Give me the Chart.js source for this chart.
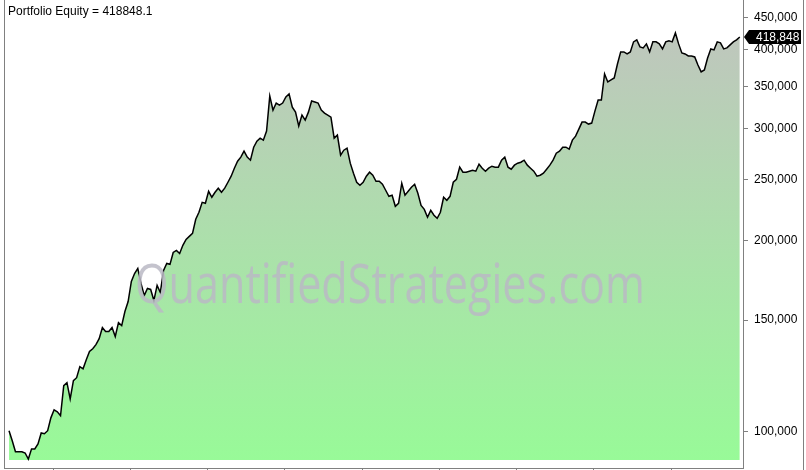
<!DOCTYPE html>
<html>
<head>
<meta charset="utf-8">
<script src="https://cdn.jsdelivr.net/npm/chart.js@4.4.1/dist/chart.umd.min.js"></script>
<style>
  html, body { margin: 0; padding: 0; background: #fff; }
  #wrap { width: 806px; height: 470px; }
</style>
</head>
<body>
<div id="wrap"><canvas id="equity" width="806" height="470"></canvas></div>
<script>
// equity, one value per half month
const startYear = 2014.43;
const stepsPerYear = 24;
const equity = [
  100400, 96800, 93000, 93000, 93000, 92600, 90600, 94000, 94000, 95700,
  99600, 99300, 100400, 105200, 108300, 107500, 106000, 118200, 119500, 112700,
  120400, 121700, 126700, 125700, 129900, 133800, 135200, 137200, 140200, 146000,
  143900, 143900, 146000, 141300, 148600, 147000, 154700, 160400, 172600, 177600,
  180900, 171300, 164000, 168200, 167600, 161000, 170100, 165800, 179600, 184200,
  183600, 191700, 193100, 191000, 196700, 201000, 203200, 205400, 216200, 221800,
  229900, 229100, 239300, 234200, 238500, 242000, 238500, 242000, 247300, 252800,
  260200, 266900, 270900, 276800, 270900, 267900, 280800, 287100, 290200, 288100,
  297700, 338100, 321300, 329600, 327200, 329600, 336900, 340600, 324800, 318900,
  303200, 315500, 309800, 318900, 332000, 330800, 329600, 321300, 317800, 315500,
  313200, 290200, 293400, 272800, 277800, 279800, 265000, 255500, 247300, 244600,
  247300, 252800, 256500, 253700, 248200, 248200, 245500, 240200, 235000, 235900,
  226600, 229100, 246400, 235900, 239300, 242800, 245500, 237600, 227400, 224100,
  217800, 223300, 219400, 217000, 221800, 234200, 231600, 235000, 247300, 250000,
  261200, 256500, 256500, 257400, 258300, 257400, 264000, 260200, 257400, 260200,
  262100, 261200, 261200, 267900, 270900, 261200, 259300, 263100, 265000, 265900,
  267900, 263100, 260200, 257400, 252800, 253700, 255500, 259300, 263100, 267900,
  274800, 276800, 280800, 280800, 278800, 288100, 292300, 299900, 307600, 307600,
  305400, 306500, 320100, 333200, 333200, 366300, 355800, 358400, 361000, 379800,
  396800, 396800, 393900, 396800, 411500, 414500, 404100, 402600, 408500, 396800,
  411500, 411500, 408500, 401100, 411500, 413000, 411500, 425000, 408500, 395300,
  393900, 391000, 391000, 389600, 378400, 369000, 371600, 388200, 401100, 399700,
  411500, 410000, 401100, 402600, 407100, 411500, 414500, 418848
];
const yTicks = [100000, 150000, 200000, 250000, 300000, 350000, 400000, 450000];
const finalEquity = 418848.1;
const fillBase = 90300;
const titleText = 'Portfolio Equity = ' + finalEquity;
const watermark = 'QuantifiedStrategies.com';

const FONT = '"Liberation Sans", Arial, sans-serif';
const points = equity.map((v, i) => ({ x: startYear + i / stepsPerYear, y: v }));

const overlay = {
  id: 'overlay',
  beforeDraw(chart) {
    const c = chart.ctx;
    c.save();
    c.fillStyle = '#fff';
    c.fillRect(0, 0, chart.width, chart.height);
    c.restore();
  },
  afterDatasetsDraw(chart) {
    const c = chart.ctx;
    // watermark
    c.save();
    c.font = '54px "Open Sans", sans-serif';
    const w = c.measureText(watermark).width;
    c.translate(135, 303);
    c.scale(510 / w, 1);
    c.fillStyle = 'rgba(186,184,196,0.85)';
    c.textBaseline = 'alphabetic';
    c.fillText(watermark, 0, 0);
    c.restore();
  },
  afterDraw(chart) {
    const c = chart.ctx;
    const a = chart.chartArea;
    c.save();
    c.strokeStyle = '#808080';
    c.lineWidth = 1;
    c.beginPath();
    c.moveTo(a.left + 0.5, 0);
    c.lineTo(a.left + 0.5, a.bottom);
    c.moveTo(chart.width - 2.5, 0);
    c.lineTo(chart.width - 2.5, chart.height);
    c.stroke();

    c.fillStyle = '#000';
    c.font = '12px ' + FONT;
    c.textBaseline = 'middle';
    c.textAlign = 'left';
    c.fillText(titleText, 8, 12);

    // last value tag
    const y = chart.scales.y.getPixelForValue(finalEquity);
    const x0 = a.right;
    c.beginPath();
    c.moveTo(x0 + 1, y);
    c.lineTo(x0 + 6, y - 7);
    c.lineTo(x0 + 58, y - 7);
    c.lineTo(x0 + 58, y + 7);
    c.lineTo(x0 + 6, y + 7);
    c.closePath();
    c.fillStyle = '#000';
    c.fill();
    c.fillStyle = '#fff';
    c.fillText(Math.round(finalEquity).toLocaleString('en-US'), x0 + 13, y + 1);
    c.restore();
  }
};

new Chart(document.getElementById('equity'), {
  type: 'line',
  data: {
    datasets: [{
      data: points,
      borderColor: '#000',
      borderWidth: 1.5,
      pointRadius: 0,
      tension: 0,
      fill: { value: fillBase },
      backgroundColor: (ctx) => {
        const area = ctx.chart.chartArea;
        if (!area) return '#b0e0b0';
        const g = ctx.chart.ctx.createLinearGradient(0, area.top, 0, 460);
        g.addColorStop(0, '#c2c2c0');
        g.addColorStop(1, '#98fa98');
        return g;
      }
    }]
  },
  options: {
    responsive: false,
    animation: false,
    layout: { padding: { left: 4, top: 0, right: 0, bottom: 0 } },
    plugins: { legend: { display: false }, tooltip: { enabled: false } },
    scales: {
      x: {
        type: 'linear',
        min: 2014.365,
        max: 2023.93,
        afterBuildTicks: (s) => {
          const t = [];
          for (let yr = 2015; yr <= 2023; yr++) t.push({ value: yr });
          s.ticks = t;
        },
        afterFit: (s) => {
          s.height = 2;
          s.paddingLeft = 0; s.paddingRight = 0;
        },
        ticks: { display: false },
        grid: { drawOnChartArea: false, drawTicks: true, tickLength: 3, color: '#808080' },
        border: { color: '#808080' }
      },
      y: {
        type: 'logarithmic',
        position: 'right',
        min: 87700,
        max: 479000,
        afterBuildTicks: (s) => { s.ticks = yTicks.map(v => ({ value: v })); },
        afterFit: (s) => {
          s.width = 63;
          s.paddingTop = 0; s.paddingBottom = 0;
        },
        ticks: {
          color: '#000',
          padding: 6,
          font: { family: FONT, size: 12 },
          callback: (v) => Number(v).toLocaleString('en-US')
        },
        grid: { drawOnChartArea: false, drawTicks: true, tickLength: 5, color: '#808080' },
        border: { color: '#808080' }
      }
    }
  },
  plugins: [overlay]
});
</script>
</body>
</html>
